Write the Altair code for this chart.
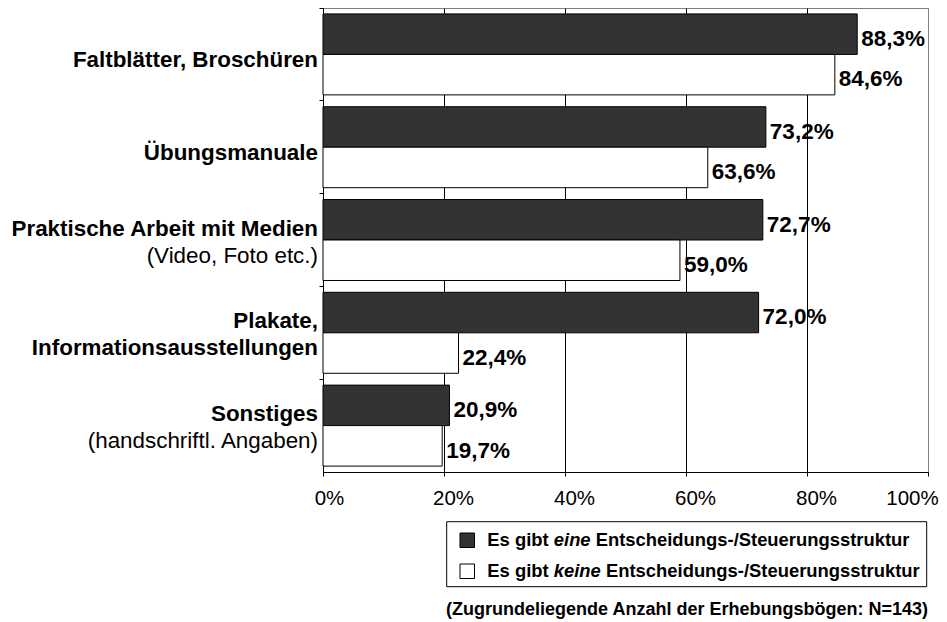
import altair as alt
import pandas as pd

# ---------------- data ----------------
cats = ["Faltblätter, Broschüren", "Übungsmanuale", "Praktische Arbeit mit Medien",
        "Plakate, Informationsausstellungen", "Sonstiges"]
line1 = ["Faltblätter, Broschüren", "Übungsmanuale", "Praktische Arbeit mit Medien",
         "Plakate,", "Sonstiges"]
line2 = ["", "", "(Video, Foto etc.)", "Informationsausstellungen", "(handschriftl. Angaben)"]
line2_bold = [False, False, False, True, False]

legend_prefix = "Es gibt "
legend_emph = ["eine", "keine"]
legend_suffix = "Entscheidungs-/Steuerungsstruktur"
series = [legend_prefix + e + " " + legend_suffix for e in legend_emph]

eine = [88.3, 73.2, 72.7, 72.0, 20.9]
keine = [84.6, 63.6, 59.0, 22.4, 19.7]

x_ticks = [0, 20, 40, 60, 80, 100]
footnote = "(Zugrundeliegende Anzahl der Erhebungsbögen: N=143)"

# ---------------- tables ----------------
rows = []
for i, c in enumerate(cats):
    for s, vals in zip(series, [eine, keine]):
        v = vals[i]
        rows.append({"cat": c, "series": s, "value": v,
                     "label": f"{v:.1f}".replace(".", ",") + "%"})
bars_df = pd.DataFrame(rows)

lab_df = pd.DataFrame({"cat": cats, "l1": line1, "l2": line2, "b2": line2_bold})
single_df = lab_df[lab_df["l2"] == ""]
double_df = lab_df[lab_df["l2"] != ""]
second_bold_df = double_df[double_df["b2"]]
second_reg_df = double_df[~double_df["b2"]]

one = pd.DataFrame({"k": [0]})

FONT = "Liberation Sans"

# ---------------- encodings ----------------
y_enc = alt.Y("cat:N", sort=cats,
              scale=alt.Scale(paddingInner=0, paddingOuter=0),
              axis=alt.Axis(labels=False, title=None, domainColor="black",
                            tickColor="black", tickSize=4, bandPosition=0,
                            grid=False, domainWidth=1, tickWidth=1))
yoff = alt.YOffset("series:N", sort=series,
                   scale=alt.Scale(paddingInner=0, paddingOuter=0.146))
x_enc = alt.X("value:Q", scale=alt.Scale(domain=[0, 100], nice=False),
              axis=alt.Axis(values=x_ticks, title=None,
                            labelExpr="datum.value + '%'",
                            labelFont=FONT, labelFontSize=20.5, labelColor="black",
                            labelBaseline="alphabetic", labelPadding=28,
                            labelFlush=False, labelOverlap=False, labelBound=False,
                            labelOffset={"condition": [
                                {"test": "datum.value === 0", "value": 6},
                                {"test": "datum.value === 100", "value": -16}],
                                "value": 9},
                            domainColor="black", tickColor="black", tickSize=4,
                            grid=True, gridWidth=1,
                            gridColor={"condition": {"test": "datum.value === 100",
                                                     "value": "#808080"},
                                       "value": "black"}))

bars = alt.Chart(bars_df).mark_bar(stroke="black", strokeWidth=1).encode(
    x=x_enc, y=y_enc, yOffset=yoff,
    color=alt.Color("series:N", sort=series,
                    scale=alt.Scale(domain=series, range=["#333333", "#ffffff"]),
                    legend=None),
)

values = alt.Chart(bars_df).mark_text(
    align="left", baseline="alphabetic", dx=4, dy=11.8, fontSize=22.5,
    fontWeight="bold", font=FONT, color="black").encode(
    x="value:Q", y=alt.Y("cat:N", sort=cats), yOffset=alt.YOffset("series:N", sort=series),
    text="label:N")

def cat_text(df, field, dy, weight):
    return alt.Chart(df).mark_text(
        align="right", baseline="alphabetic", dx=-5, dy=dy, fontSize=22.4,
        fontWeight=weight, font=FONT, color="black").encode(
        x=alt.datum(0), y=alt.Y("cat:N", sort=cats), text=f"{field}:N")

lab_single = cat_text(single_df, "l1", 12.4, "bold")
lab_first = cat_text(double_df, "l1", -4.5, "bold")
lab_second_b = cat_text(second_bold_df, "l2", 22.5, "bold")
lab_second_r = cat_text(second_reg_df, "l2", 22.5, "normal")

# ---------------- legend (manual, for mixed bold/italic text) ----------------
LEG_FS = 18.4
legend_box = alt.Chart(one).mark_rect(fill="white", stroke="black", strokeWidth=1).encode(
    x=alt.value(123.7), x2=alt.value(603.7), y=alt.value(513.7), y2=alt.value(578.7))

legend_layers = [legend_box]
leg_fill = ["#333333", "#ffffff"]
leg_base = [537.7, 568.7]
leg_sq_top = [525.0, 556.0]
suffix_x = [272.7, 283.0]
for i in range(2):
    legend_layers.append(
        alt.Chart(one).mark_rect(fill=leg_fill[i], stroke="black", strokeWidth=1).encode(
            x=alt.value(137), x2=alt.value(151.5),
            y=alt.value(leg_sq_top[i]), y2=alt.value(leg_sq_top[i] + 14.5)))
    legend_layers.append(
        alt.Chart(one).mark_text(align="left", baseline="alphabetic", fontSize=LEG_FS,
                                 fontWeight="bold", font=FONT, color="black").encode(
            x=alt.value(164.3), y=alt.value(leg_base[i]), text=alt.value(legend_prefix.strip())))
    legend_layers.append(
        alt.Chart(one).mark_text(align="left", baseline="alphabetic", fontSize=LEG_FS,
                                 fontWeight="bold", fontStyle="italic", font=FONT,
                                 color="black").encode(
            x=alt.value(230.8), y=alt.value(leg_base[i]), text=alt.value(legend_emph[i])))
    legend_layers.append(
        alt.Chart(one).mark_text(align="left", baseline="alphabetic", fontSize=LEG_FS,
                                 fontWeight="bold", font=FONT, color="black").encode(
            x=alt.value(suffix_x[i]), y=alt.value(leg_base[i]), text=alt.value(legend_suffix)))

foot = alt.Chart(one).mark_text(align="right", baseline="alphabetic", fontSize=18,
                                fontWeight="bold", font=FONT, color="black").encode(
    x=alt.value(605), y=alt.value(607), text=alt.value(footnote))

chart = alt.layer(
    bars, values, lab_single, lab_first, lab_second_b, lab_second_r,
    *legend_layers, foot
).properties(
    width=605, height=464,
    autosize=alt.AutoSizeParams(type="none"),
    padding={"left": 315, "top": 0, "right": 11, "bottom": 148},
).configure_view(stroke="#808080", strokeWidth=1)

chart.save("out.html", embed_options={"renderer": "svg", "actions": False})
